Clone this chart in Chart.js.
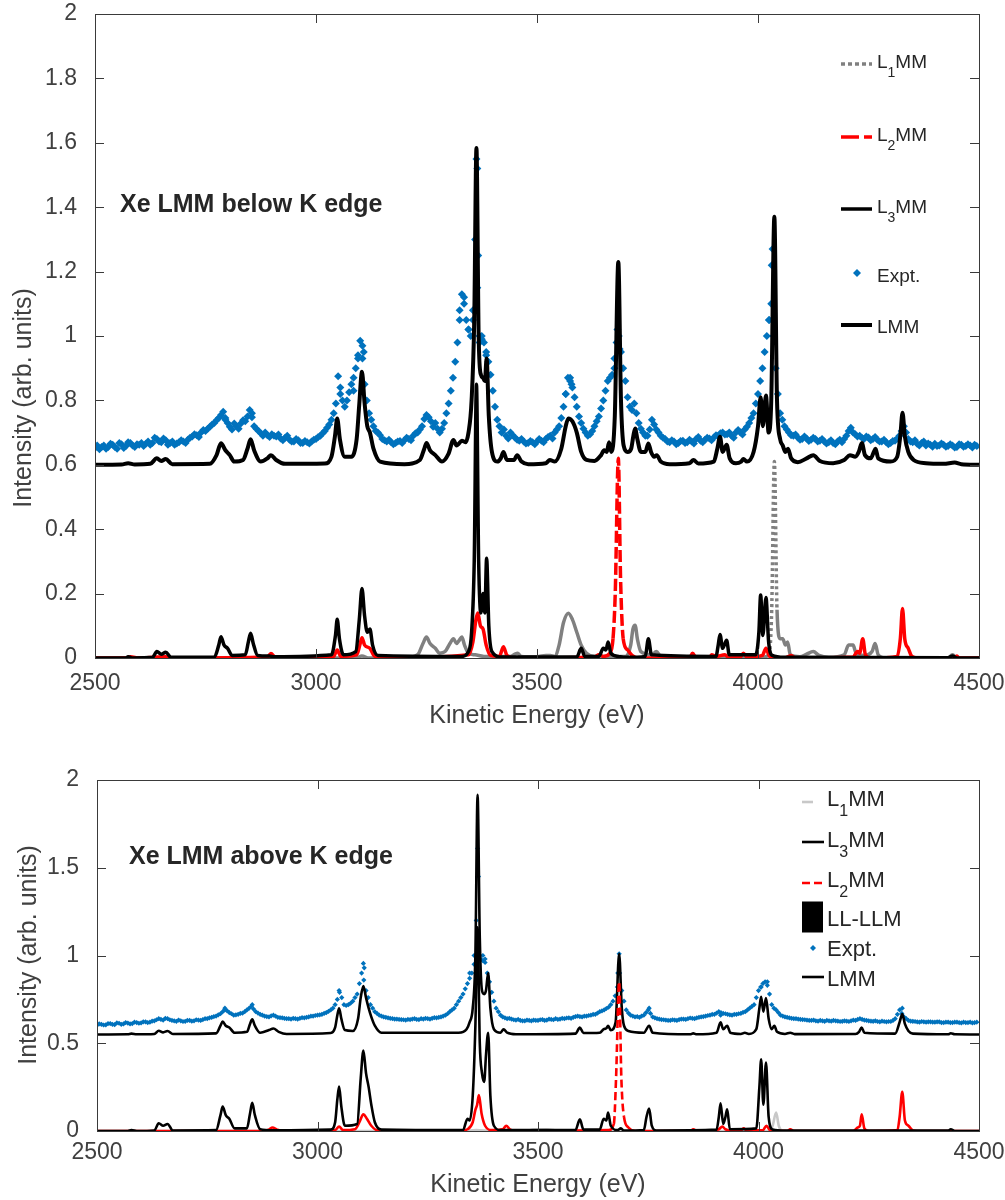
<!DOCTYPE html>
<html>
<head>
<meta charset="utf-8">
<script src="https://cdn.jsdelivr.net/npm/chart.js@4.4.1/dist/chart.umd.min.js"></script>
<style>
  body { margin: 0; background: #fff; width: 1005px; height: 1200px; position: relative; overflow: hidden; }
  .panel { position: absolute; left: 0; }
  #topPanel { top: 0; }
  #botPanel { top: 740px; }
</style>
</head>
<body>
<div class="panel" id="topPanel"><canvas id="topChart" width="1005" height="740"></canvas></div>
<div class="panel" id="botPanel"><canvas id="botChart" width="1005" height="460"></canvas></div>
<script>
const FONT = '"Liberation Sans", Arial, Helvetica, sans-serif';
const BLUE = '#0072BD';

// ---------- top panel: below K edge ----------
const lmmTopE = [2500,2560,2575,2590,2625,2640,2650,2660,2675,2760,2775,2785,2795,2805,2815,2835,2845,2852,2860,2875,2890,2898,2910,2930,
  3020,3035,3043,3048,3054,3065,3080,3092,3098,3104,3110,3116,3122,3130,3145,3200,3235,3245,3250,3258,3270,3285,3300,3311,3318,3323,3330,3338,
  3345,3352,3358,3363,3368,3373,3378,3382,3386,3391,3398,3410,3418,3424,3432,3448,3455,3465,3480,3520,3529,3540,3555,3565,3571,3580,3590,3600,
  3612,3630,3645,3652,3658,3663,3668,3676,3684,3690,3696,3705,3713,3718,3722,3727,3735,3745,3752,3758,3765,3771,3780,3800,3845,3854,3865,3900,
  3908,3914,3920,3929,3936,3950,3962,3967,3975,3990,4000,4006,4011,4018,4024,4030,4037,4043,4050,4056,4062,4068,4075,4090,4110,4125,4140,4170,
  4195,4208,4220,4228,4235,4242,4255,4262,4266,4272,4300,4315,4322,4327,4332,4340,4352,4380,4420,4445,4460,4500];
const lmmTopI = [0.600,0.601,0.605,0.601,0.603,0.620,0.612,0.618,0.602,0.603,0.630,0.667,0.645,0.630,0.610,0.615,0.650,0.679,0.645,0.610,0.620,0.630,0.615,0.603,
  0.604,0.625,0.690,0.744,0.680,0.625,0.625,0.680,0.790,0.889,0.790,0.720,0.700,0.650,0.610,0.602,0.615,0.650,0.668,0.645,0.630,0.610,0.635,0.677,0.660,0.665,0.675,0.670,
  0.700,0.800,1.050,1.584,1.000,0.880,0.870,0.860,0.930,0.750,0.640,0.610,0.620,0.640,0.615,0.615,0.630,0.610,0.602,0.605,0.615,0.610,0.650,0.720,0.744,0.735,0.700,0.640,
  0.615,0.612,0.630,0.645,0.640,0.670,0.640,0.750,1.230,0.800,0.660,0.640,0.650,0.690,0.713,0.680,0.640,0.640,0.666,0.640,0.625,0.630,0.610,0.602,0.605,0.615,0.604,0.610,
  0.650,0.687,0.640,0.662,0.620,0.605,0.610,0.618,0.610,0.640,0.720,0.810,0.720,0.815,0.700,0.800,1.370,0.800,0.680,0.660,0.640,0.650,0.620,0.608,0.620,0.630,0.612,0.605,
  0.615,0.630,0.625,0.640,0.668,0.630,0.620,0.640,0.650,0.620,0.610,0.625,0.690,0.762,0.690,0.640,0.615,0.605,0.603,0.607,0.602,0.600];

const l3TopE = [2500,2570,2575,2585,2630,2640,2650,2660,2672,2770,2780,2785,2792,2800,2810,2840,2847,2852,2858,2868,2895,2905,3035,3044,3048,3053,3062,
  3090,3098,3104,3110,3116,3122,3128,3140,3330,3345,3352,3358,3363,3368,3373,3378,3382,3386,3391,3398,3420,3590,3600,3608,3640,3650,3656,3661,3667,
  3684,3700,3745,3752,3759,3905,3910,3914,3920,3929,3935,3995,4002,4006,4011,4018,4024,4032,4060,4430,4440,4450,4500];
const l3TopI = [0,0,0.004,0,0.002,0.020,0.012,0.018,0.002,0.003,0.040,0.066,0.040,0.030,0.008,0.010,0.050,0.077,0.045,0.008,0.006,0.004,0.010,0.070,0.120,0.060,0.010,
  0.020,0.120,0.216,0.130,0.080,0.090,0.040,0.008,0.005,0.020,0.080,0.300,0.850,0.300,0.140,0.200,0.140,0.310,0.100,0.020,0.003,0.003,0.030,0.005,0.005,0.030,0.025,0.050,0.015,
  0.005,0.002,0.005,0.060,0.010,0.005,0.040,0.073,0.030,0.055,0.010,0.010,0.080,0.196,0.070,0.188,0.050,0.008,0.002,0.001,0.006,0,0];

const l2TopE = [2500,2570,2580,2600,2640,2660,2680,2890,2898,2908,3040,3048,3056,3092,3100,3104,3110,3122,3130,3145,3345,3355,3362,3366,3372,3378,3385,3395,
  3415,3424,3432,3450,3630,3640,3650,3665,3672,3677,3684,3689,3695,3705,3715,3730,3845,3852,3860,3890,3895,3905,3925,3935,3960,3967,3975,4010,4018,4026,
  4060,4075,4085,4215,4225,4230,4237,4243,4255,4315,4322,4327,4332,4340,4348,4360,4445,4450,4455,4500];
const l2TopI = [0,0,0.004,0,0.003,0.004,0,0.003,0.014,0.003,0.005,0.025,0.005,0.010,0.045,0.063,0.040,0.030,0.010,0,0.010,0.050,0.120,0.140,0.100,0.090,0.040,0.008,
  0.005,0.035,0.008,0,0.003,0.010,0.005,0.015,0.060,0.200,0.620,0.250,0.060,0.025,0.008,0,0,0.015,0,0,0.010,0.005,0.010,0,0.003,0.015,0.003,0.008,0.030,0.005,
  0,0.008,0,0.003,0.020,0.015,0.060,0.010,0,0.005,0.060,0.154,0.060,0.030,0.005,0,0,0.006,0,0];

const l1TopE = [2500,3090,3104,3120,3200,3230,3242,3250,3258,3270,3280,3292,3303,3311,3318,3324,3330,3336,3345,3360,3380,3440,3450,3456,3464,3500,3520,3530,
  3540,3550,3560,3571,3580,3590,3600,3612,3630,3700,3712,3717,3722,3727,3735,3760,3770,3780,3820,4000,4025,4031,4037,4043,4050,4056,4062,4067,4073,
  4095,4110,4125,4138,4160,4195,4205,4215,4222,4240,4258,4265,4272,4290,4430,4440,4450,4500];
const l1TopI = [0,0,0.006,0,0,0.010,0.045,0.065,0.045,0.030,0.015,0.020,0.045,0.060,0.045,0.055,0.065,0.040,0.015,0.010,0.005,0.005,0.012,0.015,0.005,0.004,0.008,0.008,
  0.005,0.040,0.110,0.139,0.120,0.080,0.040,0.015,0.005,0.005,0.040,0.090,0.102,0.060,0.020,0.010,0.020,0.005,0.002,0,0.010,0.150,0.610,0.150,0.060,0.060,0.040,0.050,0.010,
  0.004,0.012,0.020,0.008,0.002,0.010,0.040,0.040,0.015,0.008,0.020,0.045,0.010,0,0,0.010,0,0];

// experiment: two interleaved readings every 10 eV (2500.. and 2505..)
const exptTopStart = 2500, exptTopStart2 = 2505, exptTopStep = 10;
const exptTopI = [
  0.652,0.648,0.660,0.655,0.662,0.650,0.664,0.658,0.668,0.655,
  0.662,0.658,0.672,0.668,0.680,0.670,0.676,0.668,0.662,0.670,
  0.672,0.678,0.688,0.692,0.700,0.705,0.718,0.730,0.745,0.765,
  0.730,0.710,0.720,0.728,0.735,0.770,0.720,0.705,0.690,0.692,
  0.695,0.688,0.682,0.684,0.678,0.672,0.676,0.668,0.670,0.672,
  0.680,0.690,0.705,0.725,0.760,0.875,0.800,0.800,0.850,0.900,
  0.985,0.850,0.760,0.720,0.700,0.680,0.672,0.670,0.668,0.674,
  0.676,0.680,0.690,0.700,0.720,0.755,0.735,0.730,0.700,0.730,
  0.790,0.870,0.980,1.130,1.050,1.000,1.300,0.980,0.980,0.920,
  0.830,0.740,0.700,0.690,0.700,0.685,0.675,0.672,0.668,0.670,
  0.672,0.675,0.680,0.690,0.700,0.720,0.780,0.870,0.840,0.780,
  0.730,0.700,0.695,0.720,0.750,0.800,0.860,0.880,0.980,0.950,
  0.860,0.780,0.790,0.730,0.700,0.690,0.740,0.710,0.690,0.680,
  0.670,0.672,0.668,0.675,0.670,0.672,0.680,0.675,0.678,0.682,
  0.685,0.690,0.700,0.695,0.690,0.700,0.700,0.710,0.730,0.760,
  0.820,0.900,1.000,1.100,0.900,0.760,0.720,0.700,0.690,0.685,
  0.680,0.682,0.678,0.680,0.675,0.672,0.670,0.668,0.672,0.670,
  0.690,0.715,0.695,0.690,0.680,0.685,0.680,0.678,0.672,0.670,
  0.668,0.675,0.690,0.720,0.680,0.670,0.665,0.668,0.660,0.662,
  0.665,0.660,0.662,0.658,0.660,0.655,0.662,0.658,0.660,0.662];
const exptTopI2 = [
  0.660,0.655,0.650,0.665,0.655,0.668,0.652,0.670,0.660,0.664,
  0.668,0.665,0.662,0.684,0.672,0.682,0.662,0.672,0.666,0.676,
  0.668,0.684,0.695,0.686,0.708,0.712,0.725,0.738,0.755,0.745,
  0.718,0.728,0.712,0.738,0.750,0.748,0.712,0.698,0.700,0.686,
  0.690,0.694,0.676,0.690,0.672,0.680,0.668,0.674,0.666,0.678,
  0.686,0.698,0.715,0.740,0.790,0.840,0.780,0.825,0.870,0.940,
  0.930,0.800,0.740,0.705,0.692,0.676,0.678,0.664,0.672,0.668,
  0.684,0.676,0.698,0.710,0.742,0.748,0.718,0.712,0.712,0.760,
  0.830,0.920,1.050,1.100,1.020,1.080,1.150,0.990,0.940,0.880,
  0.780,0.720,0.710,0.682,0.692,0.678,0.680,0.666,0.674,0.664,
  0.680,0.670,0.686,0.682,0.710,0.745,0.820,0.860,0.810,0.750,
  0.712,0.690,0.705,0.735,0.775,0.830,0.870,0.930,1.000,0.900,
  0.810,0.770,0.760,0.712,0.690,0.710,0.725,0.700,0.684,0.672,
  0.676,0.664,0.674,0.668,0.678,0.666,0.686,0.670,0.684,0.676,
  0.692,0.698,0.694,0.700,0.684,0.708,0.694,0.718,0.745,0.790,
  0.860,0.950,1.050,1.000,0.820,0.740,0.710,0.692,0.694,0.678,
  0.688,0.674,0.684,0.672,0.680,0.666,0.676,0.664,0.678,0.680,
  0.705,0.700,0.688,0.684,0.688,0.676,0.686,0.672,0.678,0.664,
  0.674,0.682,0.705,0.700,0.672,0.676,0.660,0.672,0.666,0.656,
  0.658,0.666,0.656,0.664,0.654,0.664,0.656,0.664,0.654,0.658];
// extra readings on the sharp lines
const exptTopPeakE = [2795,2855,3055,3085,3095,3105,3108,3325,3335,3345,3355,3363,3365,3367,3370,3375,3385,3565,3575,3578,3675,3682,3687,4025,4031,4033,4036];
const exptTopPeakI = [0.740,0.760,0.820,0.830,0.930,0.970,0.950,1.080,1.120,1.020,1.050,1.550,1.520,1.250,1.000,1.000,0.950,0.820,0.870,0.850,0.900,1.020,0.960,1.050,1.220,1.270,1.000];

// ---------- bottom panel: above K edge ----------
const lmmBotE = [2500,2570,2578,2590,2630,2640,2650,2660,2672,2770,2780,2785,2792,2800,2812,2840,2847,2852,2858,2870,2890,2900,2912,2930,3030,3040,3045,
  3049,3054,3062,3080,3092,3098,3104,3110,3116,3122,3130,3145,3320,3338,3345,3352,3358,3363,3368,3373,3378,3382,3387,3392,3400,3415,3422,3430,3450,
  3585,3595,3603,3640,3649,3655,3659,3665,3676,3684,3690,3695,3705,3740,3752,3760,3845,3852,3860,3905,3914,3920,3929,3936,3960,3969,3978,3995,4002,
  4006,4011,4017,4023,4030,4036,4042,4060,4072,4082,4220,4228,4234,4240,4310,4320,4326,4332,4340,4350,4430,4436,4445,4500];
const lmmBotI = [0.550,0.551,0.555,0.551,0.553,0.571,0.562,0.570,0.553,0.556,0.600,0.623,0.600,0.590,0.560,0.565,0.610,0.636,0.600,0.560,0.575,0.584,0.565,0.553,0.558,0.590,0.660,
  0.699,0.640,0.575,0.570,0.640,0.760,0.826,0.760,0.700,0.650,0.600,0.560,0.560,0.580,0.620,0.700,1.000,1.915,1.100,0.800,0.780,0.800,0.900,0.700,0.580,0.560,0.580,0.560,0.551,
  0.555,0.589,0.558,0.560,0.580,0.585,0.600,0.575,0.620,1.010,0.700,0.600,0.570,0.560,0.600,0.560,0.551,0.556,0.551,0.560,0.620,0.580,0.600,0.560,0.553,0.560,0.553,0.580,0.700,
  0.765,0.680,0.757,0.640,0.580,0.600,0.565,0.553,0.560,0.552,0.553,0.565,0.590,0.560,0.555,0.620,0.667,0.610,0.570,0.555,0.551,0.557,0.551,0.550];

const l3BotE = [2500,2570,2578,2590,2630,2640,2650,2660,2672,2770,2780,2785,2792,2800,2812,2840,2847,2852,2858,2870,2900,3030,3040,3045,3049,3054,3062,
  3090,3098,3104,3110,3116,3122,3130,3145,3330,3340,3345,3352,3358,3363,3368,3373,3378,3382,3387,3392,3400,3415,3585,3595,3603,3640,3649,3655,3659,
  3665,3680,3688,3695,3740,3746,3752,3758,3768,3905,3910,3914,3920,3925,3929,3935,3995,4002,4006,4011,4017,4023,4032,4060,4430,4436,4445,4500];
const l3BotI = [0,0,0.005,0,0.003,0.044,0.030,0.040,0.003,0.005,0.090,0.139,0.090,0.070,0.015,0.015,0.100,0.160,0.090,0.010,0.004,0.008,0.050,0.180,0.253,0.140,0.030,
  0.040,0.300,0.458,0.330,0.250,0.150,0.050,0.008,0.005,0.070,0.060,0.200,0.600,1.160,0.500,0.330,0.280,0.430,0.560,0.200,0.030,0.005,0.005,0.067,0.008,0.008,0.070,0.060,0.105,
  0.030,0.005,0.015,0.002,0.005,0.080,0.128,0.030,0.003,0.008,0.080,0.158,0.040,0.080,0.124,0.010,0.015,0.250,0.408,0.150,0.390,0.080,0.008,0.002,0.002,0.010,0,0];

const l2BotE = [2500,2880,2890,2898,2908,2920,3040,3049,3058,3085,3095,3104,3112,3122,3135,3200,3240,3320,3340,3352,3358,3362,3366,3372,3380,3395,3420,3428,
  3436,3450,3660,3672,3677,3684,3689,3695,3705,3720,3845,3852,3860,3900,3910,3918,3925,3940,3960,3966,3974,4010,4018,4026,4065,4072,4080,4215,4225,4230,
  4234,4240,4250,4315,4320,4326,4332,4340,4350,4360,4500];
const l2BotI = [0,0,0.008,0.020,0.008,0,0.006,0.025,0.005,0.010,0.050,0.095,0.070,0.030,0.005,0.002,0.004,0,0.010,0.050,0.120,0.150,0.205,0.100,0.030,0.005,0.010,0.030,
  0.010,0,0.005,0.040,0.300,0.850,0.300,0.080,0.020,0,0,0.010,0,0.003,0.010,0.025,0.010,0,0.003,0.015,0.003,0.005,0.030,0.005,0,0.010,0,0,0.020,0.030,
  0.095,0.015,0,0.005,0.080,0.224,0.060,0.030,0.003,0,0];

const l1BotE = [2500,3330,3360,3400,3470,3490,3520,3550,4025,4032,4040,4046,4055,4500];
const l1BotI = [0,0,0.006,0,0,0.008,0.010,0,0,0.030,0.105,0.030,0,0];

const exptBotStart = 2500, exptBotStart2 = 2505, exptBotStep = 10;
const exptBotI = [
  0.602,0.608,0.605,0.612,0.606,0.614,0.610,0.615,0.612,0.618,
  0.616,0.622,0.620,0.628,0.640,0.632,0.640,0.630,0.625,0.628,
  0.625,0.630,0.628,0.632,0.635,0.640,0.648,0.655,0.668,0.690,
  0.675,0.660,0.665,0.672,0.690,0.710,0.680,0.665,0.655,0.650,
  0.660,0.648,0.645,0.640,0.638,0.640,0.642,0.645,0.650,0.655,
  0.660,0.665,0.675,0.690,0.720,0.790,0.720,0.720,0.740,0.780,
  0.900,0.800,0.720,0.680,0.660,0.650,0.645,0.640,0.638,0.635,
  0.632,0.635,0.640,0.635,0.638,0.640,0.642,0.645,0.650,0.660,
  0.680,0.700,0.740,0.780,0.840,0.900,1.200,0.980,0.960,0.850,
  0.740,0.680,0.650,0.640,0.638,0.632,0.630,0.628,0.630,0.632,
  0.630,0.635,0.632,0.636,0.640,0.638,0.640,0.645,0.648,0.655,
  0.650,0.655,0.660,0.665,0.680,0.690,0.705,0.740,0.820,0.800,
  0.690,0.660,0.650,0.648,0.660,0.690,0.650,0.640,0.635,0.632,
  0.630,0.632,0.635,0.638,0.640,0.642,0.645,0.650,0.655,0.660,
  0.665,0.680,0.670,0.665,0.660,0.665,0.670,0.680,0.700,0.720,
  0.800,0.840,0.830,0.720,0.690,0.660,0.650,0.645,0.640,0.638,
  0.635,0.632,0.630,0.628,0.630,0.625,0.628,0.630,0.626,0.625,
  0.626,0.628,0.630,0.640,0.632,0.628,0.625,0.624,0.626,0.622,
  0.624,0.640,0.690,0.650,0.630,0.625,0.622,0.624,0.620,0.622,
  0.620,0.622,0.618,0.620,0.618,0.620,0.616,0.618,0.620,0.618];
const exptBotI2 = [
  0.610,0.604,0.612,0.608,0.616,0.608,0.618,0.610,0.620,0.614,
  0.622,0.618,0.626,0.634,0.636,0.642,0.634,0.628,0.632,0.624,
  0.630,0.626,0.634,0.630,0.640,0.645,0.652,0.662,0.680,0.685,
  0.668,0.662,0.670,0.680,0.700,0.695,0.672,0.660,0.652,0.656,
  0.654,0.646,0.642,0.640,0.642,0.638,0.646,0.648,0.654,0.658,
  0.662,0.670,0.682,0.700,0.750,0.760,0.715,0.728,0.760,0.840,
  0.860,0.760,0.700,0.670,0.655,0.648,0.642,0.638,0.636,0.634,
  0.636,0.638,0.636,0.640,0.642,0.638,0.646,0.648,0.655,0.668,
  0.690,0.720,0.760,0.810,0.870,0.950,1.100,0.970,0.900,0.790,
  0.700,0.660,0.645,0.642,0.634,0.636,0.628,0.632,0.628,0.630,
  0.634,0.630,0.638,0.634,0.636,0.642,0.644,0.642,0.652,0.652,
  0.654,0.658,0.664,0.672,0.684,0.698,0.720,0.770,0.900,0.740,
  0.672,0.655,0.652,0.655,0.675,0.670,0.645,0.638,0.634,0.630,
  0.634,0.630,0.638,0.636,0.644,0.640,0.648,0.652,0.658,0.664,
  0.672,0.674,0.668,0.662,0.664,0.668,0.676,0.690,0.710,0.760,
  0.820,0.850,0.780,0.700,0.675,0.655,0.648,0.642,0.640,0.636,
  0.634,0.630,0.632,0.626,0.628,0.630,0.626,0.628,0.624,0.628,
  0.624,0.632,0.636,0.636,0.630,0.626,0.628,0.622,0.624,0.624,
  0.630,0.665,0.670,0.640,0.626,0.624,0.620,0.622,0.622,0.620,
  0.622,0.618,0.620,0.618,0.620,0.618,0.620,0.618,0.616,0.620];
const exptBotPeakE = [2790,2852,3049,3104,3106,3345,3355,3363,3365,3368,3375,3380,3681,3684,3752,3914,4006,4020,4326];
const exptBotPeakI = [0.700,0.720,0.800,0.955,0.930,0.900,1.000,1.610,1.450,1.000,1.000,0.980,0.900,1.010,0.700,0.660,0.820,0.850,0.700];

// LL-LLM appears only in the legend of the bottom panel
const llLlmE = [];
const llLlmI = [];

// ---------- helpers ----------
const pairs = (xs, ys) => xs.map((x, i) => ({ x: x, y: ys[i] }));
const grid = (start, step, ys) => ys.map((y, i) => ({ x: start + i * step, y: y }));
const fmt = v => String(+Number(v).toFixed(2));

function curve(label, xs, ys, color, width, steepDash, steepLimit) {
    return {
        label: label,
        data: pairs(xs, ys),
        showLine: true,
        borderColor: color,
        backgroundColor: color,
        borderWidth: width,
        pointRadius: 0,
        cubicInterpolationMode: 'monotone',
        borderCapStyle: 'butt',
        segment: steepDash ? {
            borderDash: c => Math.abs(c.p1.parsed.y - c.p0.parsed.y) > steepLimit ? steepDash : undefined,
        } : undefined,
    };
}

function expt(points, radius) {
    return {
        label: 'Expt.',
        data: points,
        showLine: false,
        pointStyle: 'rectRot',
        pointRadius: radius,
        pointBorderWidth: 0,
        pointBackgroundColor: BLUE,
        backgroundColor: BLUE,
        borderColor: BLUE,
    };
}

// MATLAB-like frame, inward ticks, titles, annotation and legend
const matlabFrame = {
    id: 'matlabFrame',
    afterDatasetsDraw(chart, args, o) {
        const { ctx, chartArea: a, scales: { x, y } } = chart;
        ctx.save();
        ctx.strokeStyle = '#3a3a3a';
        ctx.lineWidth = 1;
        ctx.setLineDash([]);
        ctx.strokeRect(Math.round(a.left) + 0.5, Math.round(a.top) + 0.5, Math.round(a.right - a.left), Math.round(a.bottom - a.top));
        ctx.beginPath();
        x.ticks.forEach(t => {
            const px = Math.round(x.getPixelForValue(t.value)) + 0.5;
            ctx.moveTo(px, a.bottom); ctx.lineTo(px, a.bottom - o.tick);
            ctx.moveTo(px, a.top); ctx.lineTo(px, a.top + o.tick);
        });
        y.ticks.forEach(t => {
            const py = Math.round(y.getPixelForValue(t.value)) + 0.5;
            ctx.moveTo(a.left, py); ctx.lineTo(a.left + o.tick, py);
            ctx.moveTo(a.right, py); ctx.lineTo(a.right - o.tick, py);
        });
        ctx.stroke();

        // axis titles
        ctx.fillStyle = '#404040';
        ctx.font = `25px ${FONT}`;
        ctx.textAlign = 'center';
        ctx.textBaseline = 'alphabetic';
        ctx.fillText(o.xTitle.text, o.xTitle.x, o.xTitle.y);
        ctx.save();
        ctx.translate(o.yTitle.x, o.yTitle.y);
        ctx.rotate(-Math.PI / 2);
        ctx.textBaseline = 'middle';
        ctx.fillText(o.yTitle.text, 0, 0);
        ctx.restore();

        // panel annotation
        ctx.fillStyle = '#262626';
        ctx.font = `bold 25px ${FONT}`;
        ctx.textAlign = 'left';
        ctx.fillText(o.note.text, o.note.x, o.note.y);

        // legend
        const L = o.legend;
        L.items.forEach(it => {
            const ds = chart.data.datasets[it.ds];
            ctx.save();
            if (it.kind === 'line') {
                ctx.strokeStyle = ds.borderColor;
                ctx.lineWidth = ds.borderWidth;
                ctx.setLineDash(it.dash || []);
                ctx.beginPath();
                ctx.moveTo(L.sx0, it.y);
                ctx.lineTo(it.sx1 || L.sx1, it.y);
                ctx.stroke();
            } else if (it.kind === 'marker') {
                const r = it.r;
                ctx.fillStyle = ds.backgroundColor;
                ctx.beginPath();
                ctx.moveTo(it.mx, it.y - r); ctx.lineTo(it.mx + r, it.y);
                ctx.lineTo(it.mx, it.y + r); ctx.lineTo(it.mx - r, it.y);
                ctx.closePath();
                ctx.fill();
            } else if (it.kind === 'patch') {
                ctx.fillStyle = ds.backgroundColor;
                ctx.fillRect(L.sx0, it.y - it.h / 2, it.w, it.h);
            }
            ctx.restore();
            ctx.fillStyle = '#262626';
            ctx.textAlign = 'left';
            ctx.textBaseline = 'alphabetic';
            ctx.font = `${L.size}px ${FONT}`;
            let tx = L.tx;
            ctx.fillText(it.text, tx, it.base);
            tx += ctx.measureText(it.text).width;
            if (it.sub) {
                ctx.font = `${L.subSize}px ${FONT}`;
                ctx.fillText(it.sub, tx, it.base + L.subDrop);
                tx += ctx.measureText(it.sub).width;
                ctx.font = `${L.size}px ${FONT}`;
                ctx.fillText(it.tail, tx, it.base);
            }
        });
        ctx.restore();
    },
};

function makeChart(canvas, cfg) {
    return new Chart(canvas, {
        type: 'scatter',
        data: { datasets: cfg.datasets },
        options: {
            responsive: false,
            animation: false,
            events: [],
            layout: { padding: { left: 0, right: cfg.padRight, top: cfg.padTop, bottom: 0 } },
            plugins: {
                legend: { display: false },
                tooltip: { enabled: false },
                matlabFrame: cfg.frame,
            },
            scales: {
                x: {
                    type: 'linear',
                    min: 2500,
                    max: 4500,
                    grid: { display: false },
                    border: { display: false },
                    ticks: {
                        stepSize: 500,
                        padding: cfg.xPad,
                        color: '#404040',
                        font: { family: FONT, size: 23 },
                        maxRotation: 0,
                        callback: v => String(v),
                    },
                    afterFit: s => { s.height = cfg.xHeight; s.paddingLeft = 0; s.paddingRight = 0; },
                },
                y: {
                    type: 'linear',
                    min: 0,
                    max: 2,
                    grid: { display: false },
                    border: { display: false },
                    ticks: {
                        stepSize: cfg.yStep,
                        padding: 10,
                        color: '#404040',
                        font: { family: FONT, size: 23 },
                        callback: v => fmt(v),
                    },
                    afterFit: s => { s.width = cfg.yWidth; s.paddingTop = 0; s.paddingBottom = 0; },
                },
            },
        },
        plugins: [matlabFrame],
    });
}

// ---------- top chart ----------
makeChart(document.getElementById('topChart'), {
    padTop: 14, padRight: 26, yWidth: 95, xHeight: 82, xPad: 4, yStep: 0.2,
    datasets: [
        curve('L3MM', l3TopE, l3TopI, '#000000', 3.5),
        curve('L2MM', l2TopE, l2TopI, '#ff0000', 3.5, [12, 4], 0.12),
        curve('L1MM', l1TopE, l1TopI, '#808080', 3.5, [3, 3], 0.1),
        curve('LMM', lmmTopE, lmmTopI, '#000000', 4),
        expt(grid(exptTopStart, exptTopStep, exptTopI)
            .concat(grid(exptTopStart2, exptTopStep, exptTopI2))
            .concat(pairs(exptTopPeakE, exptTopPeakI)), 4),
    ],
    frame: {
        tick: 9,
        xTitle: { text: 'Kinetic Energy (eV)', x: 537, y: 723 },
        yTitle: { text: 'Intensity (arb. units)', x: 24, y: 398 },
        note: { text: 'Xe LMM below K edge', x: 120, y: 212 },
        legend: {
            sx0: 841, sx1: 872, tx: 877, size: 19, subSize: 14, subDrop: 9,
            items: [
                { ds: 2, kind: 'line', dash: [4, 3], y: 64, base: 68, text: 'L', sub: '1', tail: 'MM' },
                { ds: 1, kind: 'line', dash: [18, 5], y: 137, base: 141, text: 'L', sub: '2', tail: 'MM' },
                { ds: 0, kind: 'line', y: 209, base: 213, text: 'L', sub: '3', tail: 'MM' },
                { ds: 4, kind: 'marker', mx: 857, r: 4, y: 273, base: 282, text: 'Expt.' },
                { ds: 3, kind: 'line', y: 325, base: 333, text: 'LMM' },
            ],
        },
    },
});

// ---------- bottom chart ----------
makeChart(document.getElementById('botChart'), {
    padTop: 40, padRight: 26, yWidth: 97, xHeight: 69, xPad: 0, yStep: 0.5,
    datasets: [
        curve('L3MM', l3BotE, l3BotI, '#000000', 2.6),
        curve('L2MM', l2BotE, l2BotI, '#ff0000', 2.6, [8, 4], 0.2),
        curve('L1MM', l1BotE, l1BotI, '#c8c8c8', 2.6),
        curve('LMM', lmmBotE, lmmBotI, '#000000', 2.6),
        Object.assign(curve('LL-LLM', llLlmE, llLlmI, '#000000', 1), { fill: true }),
        expt(grid(exptBotStart, exptBotStep, exptBotI)
            .concat(grid(exptBotStart2, exptBotStep, exptBotI2))
            .concat(pairs(exptBotPeakE, exptBotPeakI)), 2.6),
    ],
    frame: {
        tick: 9,
        xTitle: { text: 'Kinetic Energy (eV)', x: 538, y: 452 },
        yTitle: { text: 'Intensity (arb. units)', x: 29, y: 215 },
        note: { text: 'Xe LMM above K edge', x: 129, y: 124 },
        legend: {
            sx0: 802, sx1: 824, tx: 827, size: 22, subSize: 16, subDrop: 10,
            items: [
                { ds: 2, kind: 'line', sx1: 813, y: 62, base: 66, text: 'L', sub: '1', tail: 'MM' },
                { ds: 0, kind: 'line', y: 102, base: 107, text: 'L', sub: '3', tail: 'MM' },
                { ds: 1, kind: 'line', dash: [8, 4], y: 143, base: 147, text: 'L', sub: '2', tail: 'MM' },
                { ds: 4, kind: 'patch', w: 21, h: 31, y: 177, base: 186, text: 'LL-LLM' },
                { ds: 5, kind: 'marker', mx: 813, r: 3, y: 208, base: 216, text: 'Expt.' },
                { ds: 3, kind: 'line', y: 237, base: 246, text: 'LMM' },
            ],
        },
    },
});
</script>
</body>
</html>
